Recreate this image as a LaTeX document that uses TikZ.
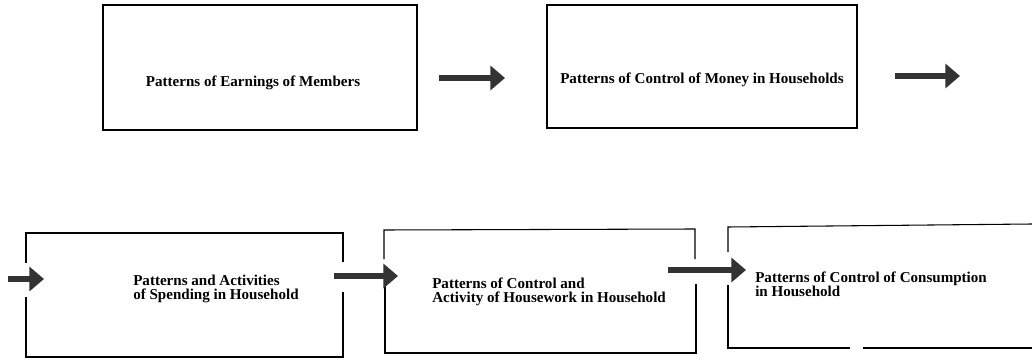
\documentclass[tikz,border=0pt]{standalone}
\usepackage{fontspec}
\setmainfont{Liberation Serif}
\usetikzlibrary{arrows.meta}

\tikzset{
  box/.style={line width=0.8pt},
  lbl/.style={font=\bfseries\fontsize{11.3}{10.5}\selectfont, inner sep=0pt, align=left},
  flow/.style={line width=4pt, draw=black!80, -{Triangle[width=18pt,length=11pt]}}
}

\begin{document}
\begin{tikzpicture}[x=0.75pt,y=-0.75pt]
				%%%%% FRAME %%%%%
				\useasboundingbox (0,0) rectangle (1032,360);
				
				%%%%% TOP ROW %%%%%
				\draw[box] (103,5) rectangle (417,130);
				\node[lbl] (earn) at (253,83) {Patterns of Earnings of Members};
				
				\draw[box] (547,5) rectangle (857,128);
				\node[lbl] (money) at (702,80) {Patterns of Control of Money in Households};
				
				%%%%% BOTTOM ROW %%%%%
				\draw[box] (26,263) -- (26,233) -- (343,233) -- (343,262);
				\draw[box] (343,292) -- (343,357) -- (26,357) -- (26,297);
				\node[lbl, anchor=west] (spend) at (133,289) {Patterns and Activities\\of Spending in Household};
				
				\draw[box] (384,259) -- (384,230) -- (695,229) -- (695,259);
				\draw[box] (696,284) -- (696,353) -- (385,353) -- (385,285);
				\node[lbl, anchor=west] (house) at (432,292) {Patterns of Control and\\Activity of Housework in Household};
				
				\draw[box] (728,252) -- (728,227) -- (1032,224);
				\draw[box] (728,285) -- (728,348) -- (850,348);
				\draw[box] (863,348) -- (1032,348);
				\node[lbl, anchor=west] (consume) at (755,284) {Patterns of Control of Consumption\\in Household};
				
				%%%%% ARROWS %%%%%
				\coordinate (a1s) at (439,78);  \coordinate (a1e) at (505,78);
				\coordinate (a2s) at (895,76);  \coordinate (a2e) at (960,76);
				\coordinate (a3s) at (8,279);   \coordinate (a3e) at (44,279);
				\coordinate (a4s) at (334,276); \coordinate (a4e) at (398,276);
				\coordinate (a5s) at (668,270); \coordinate (a5e) at (746,270);
				\draw[flow] (a1s) -- (a1e);
				\draw[flow] (a2s) -- (a2e);
				\draw[flow] (a3s) -- (a3e);
				\draw[flow] (a4s) -- (a4e);
				\draw[flow] (a5s) -- (a5e);
				%%%%% END %%%%%
\end{tikzpicture}
\end{document}
